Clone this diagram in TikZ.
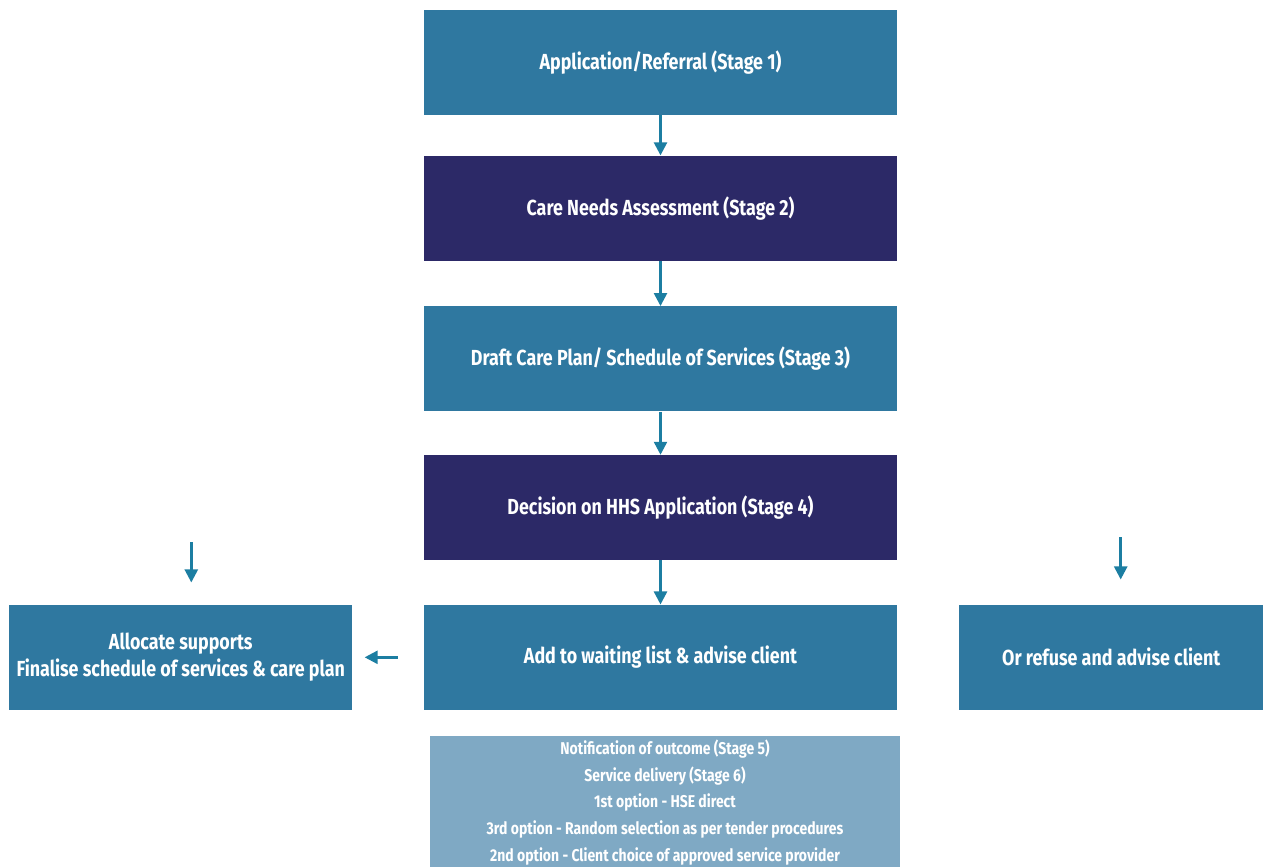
\documentclass[tikz,border=0pt]{standalone}
\usepackage{fontspec}
\setmainfont{Fira Sans}[FakeStretch=0.82]
\usepackage{tikz}
\usetikzlibrary{arrows.meta, positioning, calc}
\definecolor{stageblue}{HTML}{2F78A0}
\definecolor{stagenavy}{HTML}{2C2967}
\definecolor{outcomeblue}{HTML}{7FA9C4}
\definecolor{arrowteal}{HTML}{1C7EA2}

\begin{document}
\begin{tikzpicture}[
    node distance=0.86cm and 1.3cm,
    stagebox/.style={fill=stageblue, text=white, minimum width=9.46cm, minimum height=2.1cm,
                     align=center, font=\fontsize{12.4}{15}\selectfont\bfseries, inner sep=0pt},
    navybox/.style={stagebox, fill=stagenavy},
    outcomebox/.style={fill=outcomeblue, text=white, minimum width=9.4cm, minimum height=2.68cm,
                       align=center, font=\fontsize{9.7}{15.3}\selectfont\bfseries, inner sep=0pt},
    conn/.style={-{Triangle[length=2.6mm, width=2.6mm]}, line width=1.4pt, arrowteal}
]
    \useasboundingbox (0,0) rectangle (25.26,-17.32);

    \node[stagebox] (referral) at (13.21,-1.25) {Application/Referral (Stage 1)};
    \node[navybox, below=0.8cm of referral] (assess) {Care Needs Assessment (Stage 2)};
    \node[stagebox, below=0.9cm of assess] (draft) {Draft Care Plan/ Schedule of Services (Stage 3)};
    \node[navybox, below=0.86cm of draft] (decision) {Decision on HHS Application (Stage 4)};
    \node[stagebox, below=0.88cm of decision] (waiting) {Add to waiting list \& advise client};
    \node[stagebox, minimum width=6.86cm, left=1.42cm of waiting] (allocate)
        {Allocate supports\\Finalise schedule of services \& care plan};
    \node[stagebox, minimum width=6.1cm, right=1.22cm of waiting] (refuse) {Or refuse and advise client};
    \node[outcomebox, below=0.5cm of waiting, xshift=0.09cm] (outcome)
        {Notification of outcome (Stage 5)\\
         Service delivery (Stage 6)\\
         1st option - HSE direct\\
         3rd option - Random selection as per tender procedures\\
         2nd option - Client choice of approved service provider};

    \coordinate (allocin) at ([xshift=0.21cm, yshift=1.24cm]allocate.north);
    \coordinate (refusein) at ([xshift=0.19cm, yshift=1.34cm]refuse.north);

    \draw[conn] (referral) -- (assess);
    \draw[conn] (assess) -- (draft);
    \draw[conn] (draft) -- (decision);
    \draw[conn] (decision) -- (waiting);
    \draw[conn, shorten <=0.52cm, shorten >=0.24cm] (waiting) -- (allocate);
    \draw[conn, shorten >=0.44cm] (allocin) -- (allocin |- allocate.north);
    \draw[conn, shorten >=0.5cm] (refusein) -- (refusein |- refuse.north);
\end{tikzpicture}
\end{document}
